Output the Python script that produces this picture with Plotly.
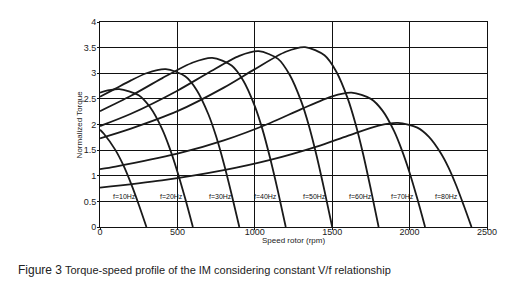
import plotly.graph_objects as go

# Values (speed in rpm, normalized torque)
freq_labels = ["f=10Hz", "f=20Hz", "f=30Hz", "f=40Hz", "f=50Hz", "f=60Hz", "f=70Hz", "f=80Hz"]

speed_10 = [0, 25, 100, 150, 200, 250, 300]
torque_10 = [1.90, 1.82, 1.50, 1.21, 0.85, 0.44, 0.0]

speed_20 = [0, 60, 125, 250, 325, 400, 450, 500, 550, 600]
torque_20 = [2.62, 2.67, 2.69, 2.57, 2.33, 1.92, 1.54, 1.08, 0.56, 0.0]

speed_30 = [0, 100, 200, 300, 425, 550, 625, 700, 750, 800, 850, 900]
torque_30 = [2.54, 2.70, 2.86, 3.00, 3.08, 2.94, 2.67, 2.20, 1.77, 1.24, 0.64, 0.0]

speed_40 = [0, 200, 400, 600, 725, 850, 925, 1000, 1050, 1100, 1150, 1200]
torque_40 = [2.26, 2.56, 2.90, 3.21, 3.30, 3.15, 2.86, 2.36, 1.90, 1.33, 0.69, 0.0]

speed_50 = [0, 200, 500, 700, 900, 1025, 1150, 1225, 1300, 1350, 1400, 1450, 1500]
torque_50 = [1.97, 2.21, 2.66, 3.01, 3.34, 3.43, 3.28, 2.97, 2.45, 1.97, 1.38, 0.71, 0.0]

speed_60 = [0, 200, 500, 800, 1000, 1200, 1325, 1450, 1525, 1600, 1650, 1700, 1750, 1800]
torque_60 = [1.73, 1.92, 2.26, 2.72, 3.08, 3.42, 3.51, 3.35, 3.04, 2.51, 2.02, 1.42, 0.73, 0.0]

speed_70 = [0, 100, 500, 800, 1100, 1300, 1500, 1625, 1750, 1825, 1900, 1950, 2000, 2050, 2100]
torque_70 = [1.13, 1.18, 1.43, 1.69, 2.03, 2.30, 2.55, 2.62, 2.50, 2.27, 1.87, 1.50, 1.06, 0.55, 0.0]

speed_80 = [0, 400, 800, 1100, 1400, 1600, 1800, 1925, 2050, 2125, 2200, 2250, 2300, 2350, 2400]
torque_80 = [0.77, 0.91, 1.11, 1.31, 1.57, 1.78, 1.98, 2.03, 1.94, 1.76, 1.45, 1.17, 0.82, 0.42, 0.0]

label_x = [160, 462, 780, 1066, 1388, 1686, 1952, 2240]
label_y = [0.6, 0.6, 0.6, 0.6, 0.6, 0.6, 0.6, 0.6]

x_ticks = [0, 500, 1000, 1500, 2000, 2500]
y_ticks = [0, 0.5, 1, 1.5, 2, 2.5, 3, 3.5, 4]
y_tick_text = ["0", "0.5", "1", "1.5", "2", "2.5", "3", "3.5", "4"]

curves = [
    (speed_10, torque_10), (speed_20, torque_20), (speed_30, torque_30), (speed_40, torque_40),
    (speed_50, torque_50), (speed_60, torque_60), (speed_70, torque_70), (speed_80, torque_80),
]

FONT = "Liberation Sans, Arial"

fig = go.Figure()
for (sx, ty), name in zip(curves, freq_labels):
    fig.add_trace(go.Scatter(
        x=sx, y=ty, mode="lines", name=name,
        line=dict(color="#1a1a1a", width=1.8, shape="spline", smoothing=0.8),
        showlegend=False, hoverinfo="skip",
    ))

for lx, ly, txt in zip(label_x, label_y, freq_labels):
    fig.add_annotation(x=lx, y=ly, text=txt, showarrow=False,
                       font=dict(family=FONT, size=7, color="#111"),
                       xanchor="center", yanchor="middle")

# axis titles
fig.add_annotation(xref="paper", yref="paper", x=0.5, y=-0.067, xanchor="center", yanchor="middle",
                   text="Speed rotor (rpm)", showarrow=False,
                   font=dict(family=FONT, size=8, color="#222"))
fig.add_annotation(xref="paper", yref="paper", x=-0.052, y=0.5, xanchor="center", yanchor="middle",
                   text="Normalized Torque", textangle=-90, showarrow=False,
                   font=dict(family=FONT, size=8, color="#222"))

# caption
fig.add_annotation(
    xref="paper", yref="paper", x=-0.217, y=-0.21, xanchor="left", yanchor="middle",
    text="<span style='font-size:12px'>Figure 3</span> Torque-speed profile of the IM considering constant V/f relationship",
    showarrow=False, font=dict(family=FONT, size=11, color="#222"),
)

axis_common = dict(showgrid=True, gridcolor="#111", gridwidth=1, showline=True,
                   linecolor="#111", linewidth=1, mirror=True, zeroline=False,
                   ticks="outside", ticklen=2, tickcolor="#111",
                   tickfont=dict(family=FONT, size=9, color="#222"))

fig.update_xaxes(range=[0, 2500], tickvals=x_ticks, ticklabelstandoff=-6, **axis_common)
fig.update_yaxes(range=[0, 4], tickvals=y_ticks, ticktext=y_tick_text, ticklabelstandoff=-1,
                 **axis_common)

fig.update_layout(width=503, height=278, margin=dict(l=92, r=24, t=9, b=59),
                  plot_bgcolor="white", paper_bgcolor="white")

fig.write_html("out.html")
